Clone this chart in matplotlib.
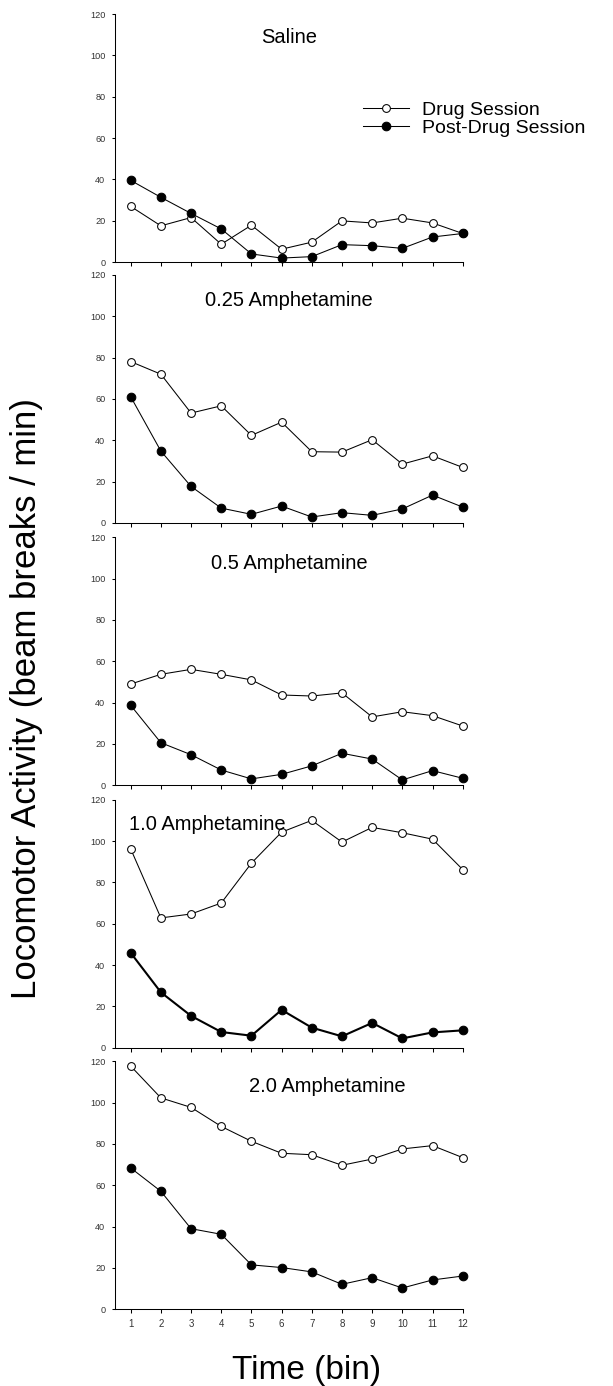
import numpy as np
import matplotlib
matplotlib.use("Agg")
import matplotlib.pyplot as plt

plt.rcParams['font.family'] = ['Liberation Sans', 'DejaVu Sans']

# time bins
bins = np.arange(1, 13)

# panel names
panel_titles = ["Saline", "0.25 Amphetamine", "0.5 Amphetamine",
                "1.0 Amphetamine", "2.0 Amphetamine"]

# drug session (open circles)
drug_saline = [26.9, 17.5, 21.5, 8.6, 17.8, 6.2, 9.6, 19.9, 18.9, 21.2, 18.9, 13.8]
drug_025 = [78.1, 72.0, 53.2, 56.7, 42.4, 48.8, 34.5, 34.3, 40.3, 28.5, 32.5, 26.9]
drug_05 = [49.0, 53.7, 56.1, 53.7, 51.0, 43.7, 43.2, 44.7, 33.1, 35.6, 33.7, 28.7]
drug_10 = [96.2, 62.8, 64.7, 70.0, 89.3, 104.3, 110.0, 99.5, 106.6, 104.0, 100.9, 86.2]
drug_20 = [117.7, 102.3, 97.7, 88.5, 81.3, 75.5, 74.8, 69.7, 72.7, 77.6, 79.2, 73.4]

# post-drug session (filled circles)
post_saline = [39.5, 31.3, 23.5, 16.0, 3.9, 1.9, 2.6, 8.4, 7.9, 6.6, 12.1, 13.8]
post_025 = [61.1, 34.8, 17.7, 7.2, 4.2, 8.2, 2.9, 5.0, 3.7, 6.8, 13.5, 7.7]
post_05 = [38.7, 20.6, 14.8, 7.4, 3.1, 5.3, 9.4, 15.5, 12.7, 2.6, 7.1, 3.4]
post_10 = [45.9, 26.8, 15.4, 7.6, 5.8, 18.3, 9.7, 5.5, 12.0, 4.5, 7.4, 8.4]
post_20 = [68.4, 57.1, 39.0, 36.3, 21.5, 20.2, 18.1, 12.1, 15.3, 10.3, 14.2, 16.1]

drug = [drug_saline, drug_025, drug_05, drug_10, drug_20]
post = [post_saline, post_025, post_05, post_10, post_20]

# where each panel title sits (data coords)
title_pos = [(6.24, 108.5), (6.24, 107.7), (6.24, 107.5), (3.53, 108.0), (7.5, 108.0)]
post_lw = [0.75, 0.75, 0.75, 1.5, 0.75]

W, H = 613, 1386
fig = plt.figure(figsize=(W / 100, H / 100), dpi=100)

left_px, right_px = 115, 462.7
tops = [14, 275, 537.3, 799.7, 1061.3]
ph = 248

axes = []
for i in range(5):
    ax = fig.add_axes([left_px / W, 1 - (tops[i] + ph) / H,
                       (right_px - left_px) / W, ph / H])
    axes.append(ax)
    ax.plot(bins, drug[i], '-o', color='black', lw=0.75, ms=5.6,
            mfc='white', mec='black', mew=0.75, clip_on=False, zorder=3,
            label='Drug Session')
    ax.plot(bins, post[i], '-o', color='black', lw=post_lw[i], ms=6.2,
            mfc='black', mec='black', mew=0.75, clip_on=False, zorder=3,
            label='Post-Drug Session')
    ax.set_xlim(0.48, 12)
    ax.set_ylim(0, 120)
    ax.set_yticks(np.arange(0, 121, 20))
    ax.set_xticks(bins)
    for s in ['top', 'right']:
        ax.spines[s].set_visible(False)
    for s in ['left', 'bottom']:
        ax.spines[s].set_linewidth(0.75)
    ax.tick_params(axis='y', length=2.4, width=0.75, pad=4.5,
                   labelsize=6.6, labelcolor='#333333')
    ax.tick_params(axis='x', length=3, width=0.75, pad=4.3,
                   labelsize=7, labelcolor='#333333')
    if i < 4:
        ax.tick_params(axis='x', labelbottom=False)
    tx, ty = title_pos[i]
    ax.text(tx, ty, panel_titles[i], ha='center', va='center', fontsize=14.5)

# legend in the first panel
axes[0].legend(loc='center left', bbox_to_anchor=(362.7 / W, 1 - 118.9 / H),
               bbox_transform=fig.transFigure, frameon=False, fontsize=14,
               handlelength=2.4, handletextpad=0.65, labelspacing=0.0,
               borderpad=0, borderaxespad=0)

fig.text(27 / W, 1 - 699 / H, 'Locomotor Activity (beam breaks / min)',
         rotation=90, ha='center', va='center', fontsize=25)
fig.text(307 / W, 1 - 1370 / H, 'Time (bin)', ha='center', va='center',
         fontsize=24)

fig.savefig('out.png', dpi=100)
